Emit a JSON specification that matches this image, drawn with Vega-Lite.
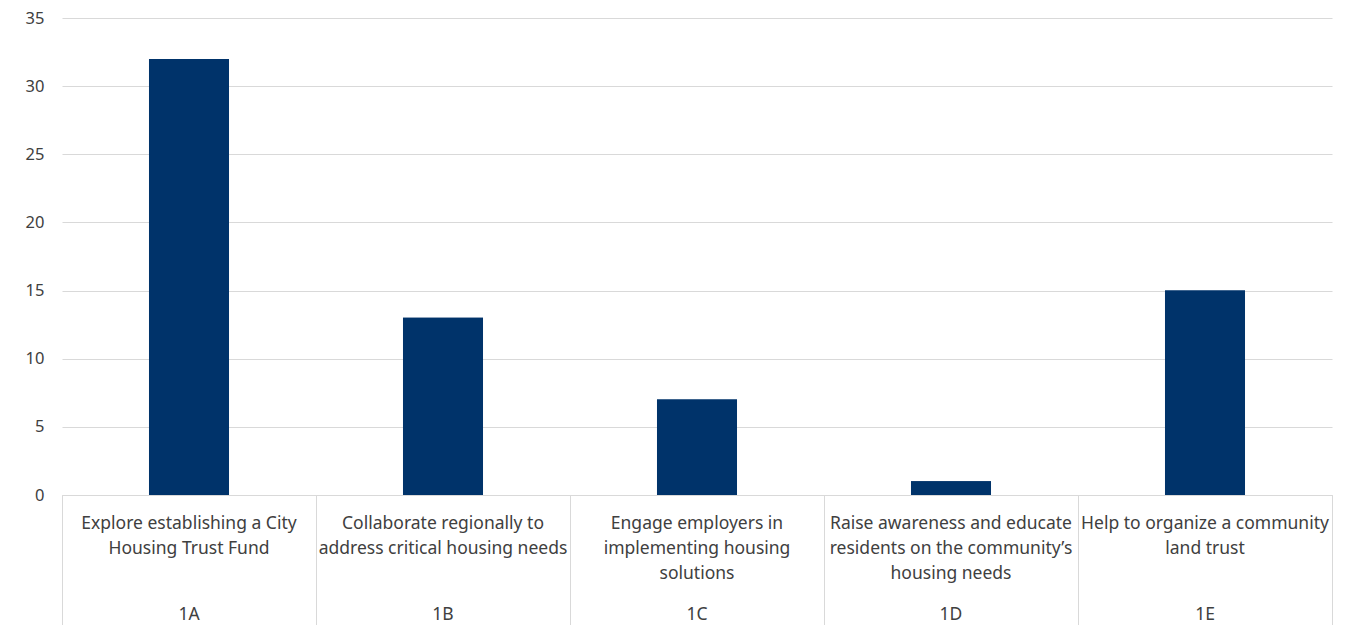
{
  "$schema": "https://vega.github.io/schema/vega-lite/v6.json",
  "width": 1270,
  "height": 477,
  "autosize": "none",
  "padding": {"left": 62, "top": 18, "right": 26, "bottom": 130},
  "background": "white",
  "config": {
    "view": {"stroke": null},
    "font": "Noto Sans",
    "axis": {"labelFont": "Noto Sans", "labelFontSize": 16.5, "labelColor": "#404040"}
  },
  "data": {
    "values": [
      {"label": "1A|Explore establishing a City|Housing Trust Fund", "value": 32},
      {"label": "1B|Collaborate regionally to|address critical housing needs", "value": 13},
      {"label": "1C|Engage employers in|implementing housing|solutions", "value": 7},
      {"label": "1D|Raise awareness and educate|residents on the community’s|housing needs", "value": 1},
      {"label": "1E|Help to organize a community|land trust", "value": 15}
    ]
  },
  "encoding": {
    "y": {
      "field": "value",
      "type": "quantitative",
      "scale": {"domain": [0, 35]},
      "axis": {
        "title": null,
        "values": [0, 5, 10, 15, 20, 25, 30, 35],
        "domain": false,
        "ticks": false,
        "labelPadding": 18,
        "gridColor": "#d9d9d9",
        "gridWidth": 1
      }
    }
  },
  "layer": [
    {
      "mark": {"type": "bar", "color": "#00336a", "width": {"band": 0.315}},
      "encoding": {
        "x": {
          "field": "label",
          "type": "nominal",
          "sort": null,
          "scale": {"paddingInner": 0, "paddingOuter": 0},
          "axis": {
            "orient": "bottom",
            "title": null,
            "labelAngle": 0,
            "labelExpr": "slice(split(datum.label, '|'), 1)",
            "labelFontSize": 17.5,
            "labelLineHeight": 25,
            "labelBaseline": "top",
            "labelLimit": 0,
            "labelPadding": -111,
            "tickSize": 130,
            "tickColor": "#d9d9d9",
            "bandPosition": 1,
            "domainColor": "#d9d9d9",
            "grid": false
          }
        }
      }
    },
    {
      "mark": {"type": "bar", "color": "#00336a", "width": {"band": 0.315}},
      "encoding": {
        "x": {
          "field": "label",
          "type": "nominal",
          "sort": null,
          "axis": {
            "orient": "bottom",
            "title": null,
            "labelAngle": 0,
            "labelExpr": "split(datum.label, '|')[0]",
            "labelFontSize": 17.5,
            "labelBaseline": "top",
            "labelLimit": 0,
            "labelPadding": -20,
            "tickSize": 130,
            "tickColor": "#d9d9d9",
            "bandPosition": 0,
            "domainColor": "#d9d9d9",
            "grid": false
          }
        }
      }
    }
  ],
  "resolve": {"axis": {"x": "independent"}}
}
